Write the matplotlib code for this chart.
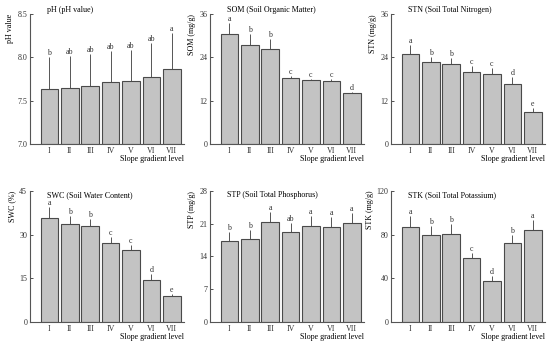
import matplotlib
matplotlib.use("Agg")
import matplotlib.pyplot as plt
import numpy as np

plt.rcParams['font.family'] = ['Liberation Serif', 'DejaVu Serif']

levels = ["I", "II", "III", "IV", "V", "VI", "VII"]

# means and upper error bar tops
ph = [7.63, 7.65, 7.67, 7.71, 7.73, 7.77, 7.87]
ph_top = [8.00, 8.01, 8.04, 8.07, 8.08, 8.17, 8.28]
ph_let = ["b", "ab", "ab", "ab", "ab", "ab", "a"]

som = [30.5, 27.4, 26.4, 18.3, 17.6, 17.5, 14.2]
som_top = [33.4, 30.4, 29.2, 18.9, 18.1, 18.1, 14.5]
som_let = ["a", "b", "b", "c", "c", "c", "d"]

stn = [24.8, 22.6, 22.1, 20.0, 19.5, 16.6, 9.0]
stn_top = [27.3, 24.2, 23.8, 21.5, 21.0, 18.5, 9.9]
stn_let = ["a", "b", "b", "c", "c", "d", "e"]

swc = [35.7, 33.8, 33.0, 27.1, 24.6, 14.5, 8.8]
swc_top = [39.5, 36.4, 35.5, 29.2, 26.3, 16.4, 9.7]
swc_let = ["a", "b", "b", "c", "c", "d", "e"]

stp = [17.4, 17.8, 21.4, 19.2, 20.6, 20.3, 21.2]
stp_top = [19.2, 19.6, 23.5, 21.2, 22.7, 22.4, 23.3]
stp_let = ["b", "b", "a", "ab", "a", "a", "a"]

stk = [87.0, 80.0, 80.3, 58.6, 37.6, 72.4, 84.0]
stk_top = [97.1, 87.6, 90.1, 63.2, 41.8, 79.4, 93.1]
stk_let = ["a", "b", "b", "c", "d", "b", "a"]

panels = [
    (ph, ph_top, ph_let, "pH (pH value)", "pH value", (7.0, 8.5), [7.0, 7.5, 8.0, 8.5], "{:.1f}"),
    (som, som_top, som_let, "SOM (Soil Organic Matter)", "SOM (mg/g)", (0, 36), [0, 12, 24, 36], "{:d}"),
    (stn, stn_top, stn_let, "STN (Soil Total Nitrogen)", "STN (mg/g)", (0, 36), [0, 12, 24, 36], "{:d}"),
    (swc, swc_top, swc_let, "SWC (Soil Water Content)", "SWC (%)", (0, 45), [0, 15, 30, 45], "{:d}"),
    (stp, stp_top, stp_let, "STP (Soil Total Phosphorus)", "STP (mg/g)", (0, 28), [0, 7, 14, 21, 28], "{:d}"),
    (stk, stk_top, stk_let, "STK (Soil Total Potassium)", "STK (mg/g)", (0, 120), [0, 40, 80, 120], "{:d}"),
]

fig = plt.figure(figsize=(5.5, 3.45), dpi=100)
lefts = [0.0545, 0.3818, 0.7109]
rows = [(0.5826, 0.3768, 1.03), (0.0667, 0.3797, 0.97)]
fs = 5.8
x = np.arange(len(levels))

for i, (vals, tops, lets, title, ylab, ylim, yt, fmt) in enumerate(panels):
    bottom, height, ty = rows[i // 3]
    ax = fig.add_axes([lefts[i % 3], bottom, 0.28, height])
    base = ylim[0]
    vals = np.array(vals)
    tops = np.array(tops)
    ax.bar(x, vals - base, bottom=base, width=0.86, color="#c3c3c3",
           edgecolor="#4a4a4a", linewidth=0.8, zorder=2)
    ax.errorbar(x, vals, yerr=[np.zeros_like(vals), tops - vals], fmt="none",
                ecolor="#555", elinewidth=0.7, capsize=0, zorder=1)
    for xi, t, l in zip(x, tops, lets):
        ax.text(xi, t, l, ha="center", va="bottom", fontsize=fs, color="#333")
    ax.set_xlim(-0.95, 6.6)
    ax.set_ylim(*ylim)
    ax.set_xticks(x)
    ax.set_xticklabels(levels)
    ax.set_yticks(yt)
    ax.set_yticklabels([fmt.format(v) for v in yt])
    for s in ["top", "right"]:
        ax.spines[s].set_visible(False)
    for s in ["left", "bottom"]:
        ax.spines[s].set_color("#555")
        ax.spines[s].set_linewidth(0.8)
    ax.tick_params(direction="in", length=2, width=0.6, labelsize=fs, pad=2, colors="#333")
    ax.set_ylabel(ylab, loc="top", fontsize=fs, labelpad=2)
    ax.set_xlabel("Slope gradient level", loc="right", fontsize=fs, labelpad=0)
    ax.text(0.11, ty, title, transform=ax.transAxes, ha="left", va="center", fontsize=fs)

fig.savefig("out.png", dpi=100)
